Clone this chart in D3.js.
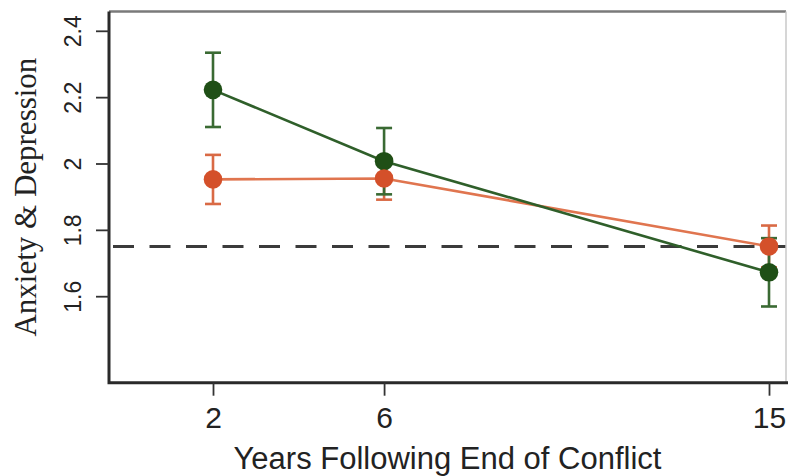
<!DOCTYPE html>
<html>
<head>
<meta charset="utf-8">
<script src="https://cdn.jsdelivr.net/npm/d3@7"></script>
<style>
  html, body { margin: 0; padding: 0; background: #fff; }
  svg { display: block; }
</style>
</head>
<body>
<svg id="chart" width="788" height="476"></svg>
<script>
// Years after the conflict ended
const years = [2, 6, 15];

// Group A (green): mean scores and standard errors
const groupAMean = [2.222, 2.007, 1.672];
const groupAErr  = [0.112, 0.100, 0.103];

// Group B (orange): mean scores and standard errors
const groupBMean = [1.952, 1.955, 1.750];
const groupBErr  = [0.074, 0.064, 0.063];

// Reference level shown as a dashed line
const referenceLevel = 1.75;

const yTicks = [1.6, 1.8, 2.0, 2.2, 2.4];
const xTicks = [2, 6, 15];

const svg = d3.select("#chart");

const frame = { left: 109, right: 786, top: 11.5, bottom: 382.7 };

const x = d3.scaleLinear().domain([2, 15]).range([213, 769]);
const y = d3.scaleLinear().domain([1.6, 2.4]).range([296.2, 30.8]);

// Reference line
svg.append("line")
  .attr("x1", frame.left + 4).attr("x2", frame.right)
  .attr("y1", y(referenceLevel)).attr("y2", y(referenceLevel))
  .attr("stroke", "#3b3b3b")
  .attr("stroke-width", 3)
  .attr("stroke-dasharray", "21,15.5");

const series = [
  { means: groupBMean, errs: groupBErr, line: "#e0754f", bar: "#d96a45", dot: "#d4502a" },
  { means: groupAMean, errs: groupAErr, line: "#2f5f2a", bar: "#3a6a33", dot: "#1f4f16" }
].map(s => ({ ...s, pts: years.map((yr, i) => ({ yr, m: s.means[i], e: s.errs[i] })) }));

// Connecting lines
series.forEach(s => {
  svg.append("path")
    .datum(s.pts)
    .attr("fill", "none")
    .attr("stroke", s.line)
    .attr("stroke-width", 2.6)
    .attr("d", d3.line().x(d => x(d.yr)).y(d => y(d.m)));
});

// Error bars with caps
series.forEach(s => {
  const eb = svg.append("g").selectAll("g").data(s.pts).join("g");
  eb.append("line")
    .attr("x1", d => x(d.yr)).attr("x2", d => x(d.yr))
    .attr("y1", d => y(d.m + d.e)).attr("y2", d => y(d.m - d.e))
    .attr("stroke", s.bar).attr("stroke-width", 2.6);
  [1, -1].forEach(k => {
    eb.append("line")
      .attr("x1", d => x(d.yr) - 8).attr("x2", d => x(d.yr) + 8)
      .attr("y1", d => y(d.m + k * d.e)).attr("y2", d => y(d.m + k * d.e))
      .attr("stroke", s.bar).attr("stroke-width", 2.6);
  });
});

// Markers: green first, orange on top
[series[1], series[0]].forEach(s => {
  svg.append("g").selectAll("circle").data(s.pts).join("circle")
    .attr("cx", d => x(d.yr)).attr("cy", d => y(d.m))
    .attr("r", 9.3)
    .attr("fill", s.dot);
});

// Plot frame: heavy left/bottom, lighter top/right
svg.append("line").attr("x1", frame.left).attr("x2", frame.right)
  .attr("y1", frame.top).attr("y2", frame.top)
  .attr("stroke", "#7a7a7a").attr("stroke-width", 2.5);
svg.append("line").attr("x1", frame.right).attr("x2", frame.right)
  .attr("y1", frame.top).attr("y2", frame.bottom)
  .attr("stroke", "#c8c8c8").attr("stroke-width", 1.5);
svg.append("path")
  .attr("d", `M${frame.left},${frame.top}V${frame.bottom}H${frame.right + 2}`)
  .attr("fill", "none").attr("stroke", "#2a2a2a").attr("stroke-width", 3);

// Y axis
const yAxis = svg.append("g")
  .attr("transform", `translate(${frame.left},0)`)
  .call(d3.axisLeft(y).tickValues(yTicks).tickSize(13)
    .tickFormat(d => d3.format("~g")(d)));
yAxis.select(".domain").remove();
yAxis.selectAll(".tick line").attr("stroke", "#333").attr("stroke-width", 1.8);
yAxis.selectAll(".tick text")
  .attr("x", 0).attr("dy", null).attr("y", -36)
  .attr("transform", "rotate(-90)")
  .attr("dominant-baseline", "central")
  .style("text-anchor", "middle")
  .style("font-family", "'Liberation Sans', Arial, sans-serif")
  .style("font-size", "23px")
  .attr("fill", "#222");

// X axis
const xAxis = svg.append("g")
  .attr("transform", `translate(0,${frame.bottom})`)
  .call(d3.axisBottom(x).tickValues(xTicks).tickSize(13).tickFormat(d3.format("d")));
xAxis.select(".domain").remove();
xAxis.selectAll(".tick line").attr("stroke", "#333").attr("stroke-width", 1.8);
xAxis.selectAll(".tick text")
  .attr("dy", null).attr("y", 45.6)
  .style("font-family", "'Liberation Sans', Arial, sans-serif")
  .style("font-size", "30px")
  .attr("fill", "#222");

// Axis titles
svg.append("text")
  .attr("x", (frame.left + frame.right) / 2).attr("y", 469)
  .attr("text-anchor", "middle")
  .style("font-family", "'Liberation Sans', Arial, sans-serif")
  .style("font-size", "31px")
  .attr("fill", "#222")
  .text("Years Following End of Conflict");

svg.append("text")
  .attr("transform", `translate(35.5,${(frame.top + frame.bottom) / 2}) rotate(-90)`)
  .attr("text-anchor", "middle")
  .style("font-family", "'Liberation Serif', 'Times New Roman', serif")
  .style("font-size", "31px")
  .attr("fill", "#222")
  .text("Anxiety & Depression");
</script>
</body>
</html>
